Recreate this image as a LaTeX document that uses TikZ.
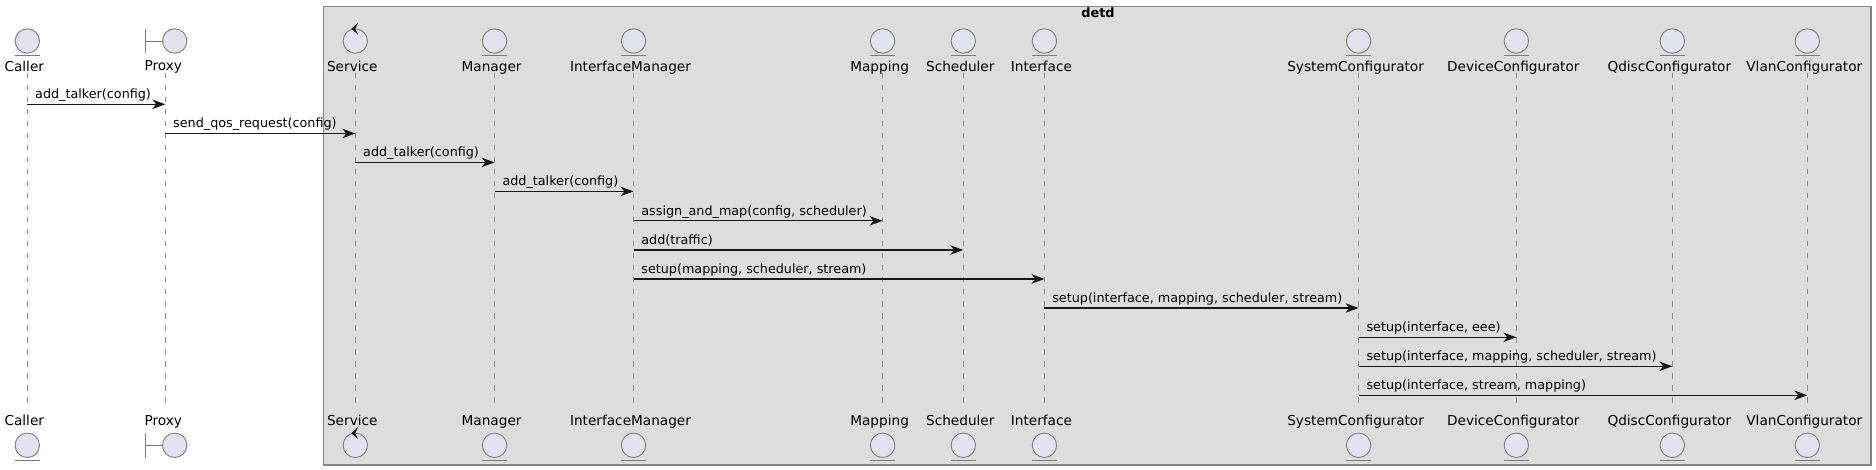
\documentclass[tikz,border=0pt]{standalone}
\usepackage{fontspec}
\setmainfont{DejaVu Sans}
\usetikzlibrary{arrows.meta, positioning}

\definecolor{partfill}{HTML}{E2E2F0}
\definecolor{partline}{HTML}{7C7C7C}
\definecolor{boxfill}{HTML}{DDDDDD}
\definecolor{boxline}{HTML}{858585}
\definecolor{msgline}{HTML}{181818}
\definecolor{lifeline}{HTML}{8A8A8A}

\begin{document}
\begin{tikzpicture}[x=1pt, y=-1pt, >={Stealth[length=13pt, width=9.5pt, inset=4pt]}]
    \tikzstyle{entline} = [draw=partline, line width=.9pt]
    \tikzstyle{ent} = [circle, draw=partline, fill=partfill, line width=.9pt, minimum size=24.4pt, inner sep=0pt]
    \tikzstyle{entity} = [ent, append after command={([xshift=-12.2pt, yshift=-2pt]\tikzlastnode.south) edge[entline] ([xshift=12.2pt, yshift=-2pt]\tikzlastnode.south)}]
    \tikzstyle{ptext} = [font=\fontsize{13.65}{16}\selectfont, text=black, inner sep=0pt, text height=13pt, text depth=4pt]
    \tikzstyle{life} = [draw=lifeline, line width=.8pt, dash pattern=on 5.5pt off 6.5pt]
    \tikzstyle{msg} = [->, draw=msgline, line width=1.05pt]
    \tikzstyle{mtext} = [font=\fontsize{12.75}{15}\selectfont, text=black, inner sep=0pt, pos=0, anchor=base west, xshift=7.4pt, yshift=5.6pt]

    \useasboundingbox (0,0) rectangle (1876,470);

    % Define box
    \draw[fill=boxfill, draw=boxline, line width=1.2pt] (323.5,6.5) rectangle (1871,465);
    \node[font=\fontsize{12.9}{15}\selectfont\bfseries, inner sep=0pt, anchor=base] (detd) at (1098,18) {detd};

    % Define rows
    \coordinate (lifetop) at (0,73);
    \coordinate (lifebot) at (0,408);
    \coordinate (r1) at (0,104.3);
    \coordinate (r2) at (0,133.5);
    \coordinate (r3) at (0,162.4);
    \coordinate (r4) at (0,191.4);
    \coordinate (r5) at (0,220.8);
    \coordinate (r6) at (0,250);
    \coordinate (r7) at (0,279);
    \coordinate (r8) at (0,308);
    \coordinate (r9) at (0,337.3);
    \coordinate (r10) at (0,366.3);
    \coordinate (r11) at (0,395.3);

    % Define participants
    \node[entity] (caller) at (27.3,41) {};
    \node[entity] (callerb) at (27.3,445.3) {};
    \node[ptext] (callertxt) [below=4.6pt of caller, xshift=-3pt] {Caller};
    \node[ptext] (callerbtxt) [above=3.1pt of callerb, xshift=-3pt] {Caller};

    \coordinate (proxy) at (165.3,41);
    \coordinate (proxyb) at (165.3,445.3);
    \coordinate (proxybar) at (145.3,41);
    \coordinate (proxybbar) at (145.3,445.3);
    \node[ent] (proxyhead) at (174.7,41) {};
    \node[ent] (proxybhead) at (174.7,445.3) {};
    \node[ptext] (proxytxt) [below=16.8pt of proxy, xshift=-2pt] {Proxy};
    \node[ptext] (proxybtxt) [above=15.3pt of proxyb, xshift=-2pt] {Proxy};
    \draw[entline] (proxyhead.west) -- (proxybar);
    \draw[entline] ([yshift=12.2pt]proxybar) -- ([yshift=-12.2pt]proxybar);
    \draw[entline] (proxybhead.west) -- (proxybbar);
    \draw[entline] ([yshift=12.2pt]proxybbar) -- ([yshift=-12.2pt]proxybbar);

    \node[ent] (service) at (355.3,41) {};
    \node[ent] (serviceb) at (355.3,445.3) {};
    \node[ptext] (servicetxt) [below=4.6pt of service, xshift=-3pt] {Service};
    \node[ptext] (servicebtxt) [above=3.1pt of serviceb, xshift=-3pt] {Service};
    \fill[msgline] ([shift={(2.7,-5.5)}]service.north) -- ++(-6.7,6) -- ++(6.7,5.7) -- ++(-2.7,-5.7) -- cycle;
    \fill[msgline] ([shift={(2.7,-5.5)}]serviceb.north) -- ++(-6.7,6) -- ++(6.7,5.7) -- ++(-2.7,-5.7) -- cycle;

    \node[entity] (manager) at (494.6,41) {};
    \node[entity] (managerb) at (494.6,445.3) {};
    \node[ptext] (managertxt) [below=4.6pt of manager, xshift=-3pt] {Manager};
    \node[ptext] (managerbtxt) [above=3.1pt of managerb, xshift=-3pt] {Manager};

    \node[entity] (ifmanager) at (633.5,41) {};
    \node[entity] (ifmanagerb) at (633.5,445.3) {};
    \node[ptext] (ifmanagertxt) [below=4.6pt of ifmanager, xshift=-3pt] {InterfaceManager};
    \node[ptext] (ifmanagerbtxt) [above=3.1pt of ifmanagerb, xshift=-3pt] {InterfaceManager};

    \node[entity] (mapping) at (882.6,41) {};
    \node[entity] (mappingb) at (882.6,445.3) {};
    \node[ptext] (mappingtxt) [below=4.6pt of mapping, xshift=-3pt] {Mapping};
    \node[ptext] (mappingbtxt) [above=3.1pt of mappingb, xshift=-3pt] {Mapping};

    \node[entity] (scheduler) at (963.3,41) {};
    \node[entity] (schedulerb) at (963.3,445.3) {};
    \node[ptext] (schedulertxt) [below=4.6pt of scheduler, xshift=-3pt] {Scheduler};
    \node[ptext] (schedulerbtxt) [above=3.1pt of schedulerb, xshift=-3pt] {Scheduler};

    \node[entity] (interface) at (1044.4,41) {};
    \node[entity] (interfaceb) at (1044.4,445.3) {};
    \node[ptext] (interfacetxt) [below=4.6pt of interface, xshift=-3pt] {Interface};
    \node[ptext] (interfacebtxt) [above=3.1pt of interfaceb, xshift=-3pt] {Interface};

    \node[entity] (syscfg) at (1358.6,41) {};
    \node[entity] (syscfgb) at (1358.6,445.3) {};
    \node[ptext] (syscfgtxt) [below=4.6pt of syscfg, xshift=-3pt] {SystemConfigurator};
    \node[ptext] (syscfgbtxt) [above=3.1pt of syscfgb, xshift=-3pt] {SystemConfigurator};

    \node[entity] (devcfg) at (1516.3,41) {};
    \node[entity] (devcfgb) at (1516.3,445.3) {};
    \node[ptext] (devcfgtxt) [below=4.6pt of devcfg, xshift=-3pt] {DeviceConfigurator};
    \node[ptext] (devcfgbtxt) [above=3.1pt of devcfgb, xshift=-3pt] {DeviceConfigurator};

    \node[entity] (qdisccfg) at (1672.3,41) {};
    \node[entity] (qdisccfgb) at (1672.3,445.3) {};
    \node[ptext] (qdisccfgtxt) [below=4.6pt of qdisccfg, xshift=-3pt] {QdiscConfigurator};
    \node[ptext] (qdisccfgbtxt) [above=3.1pt of qdisccfgb, xshift=-3pt] {QdiscConfigurator};

    \node[entity] (vlancfg) at (1807.3,41) {};
    \node[entity] (vlancfgb) at (1807.3,445.3) {};
    \node[ptext] (vlancfgtxt) [below=4.6pt of vlancfg, xshift=-3pt] {VlanConfigurator};
    \node[ptext] (vlancfgbtxt) [above=3.1pt of vlancfgb, xshift=-3pt] {VlanConfigurator};

    % Draw lifelines
    \draw[life] (caller |- lifetop) -- (caller |- lifebot);
    \draw[life] (proxy |- lifetop) -- (proxy |- lifebot);
    \draw[life] (service |- lifetop) -- (service |- lifebot);
    \draw[life] (manager |- lifetop) -- (manager |- lifebot);
    \draw[life] (ifmanager |- lifetop) -- (ifmanager |- lifebot);
    \draw[life] (mapping |- lifetop) -- (mapping |- lifebot);
    \draw[life] (scheduler |- lifetop) -- (scheduler |- lifebot);
    \draw[life] (interface |- lifetop) -- (interface |- lifebot);
    \draw[life] (syscfg |- lifetop) -- (syscfg |- lifebot);
    \draw[life] (devcfg |- lifetop) -- (devcfg |- lifebot);
    \draw[life] (qdisccfg |- lifetop) -- (qdisccfg |- lifebot);
    \draw[life] (vlancfg |- lifetop) -- (vlancfg |- lifebot);

    % Draw messages
    \draw[msg] (caller |- r1) -- node[mtext] {add\_talker(config)} (proxy |- r1);
    \draw[msg] (proxy |- r2) -- node[mtext] {send\_qos\_request(config)} (service |- r2);
    \draw[msg] (service |- r3) -- node[mtext] {add\_talker(config)} (manager |- r3);
    \draw[msg] (manager |- r4) -- node[mtext] {add\_talker(config)} (ifmanager |- r4);
    \draw[msg] (ifmanager |- r5) -- node[mtext] {assign\_and\_map(config, scheduler)} (mapping |- r5);
    \draw[msg] (ifmanager |- r6) -- node[mtext] {add(traffic)} (scheduler |- r6);
    \draw[msg] (ifmanager |- r7) -- node[mtext] {setup(mapping, scheduler, stream)} (interface |- r7);
    \draw[msg] (interface |- r8) -- node[mtext] {setup(interface, mapping, scheduler, stream)} (syscfg |- r8);
    \draw[msg] (syscfg |- r9) -- node[mtext] {setup(interface, eee)} (devcfg |- r9);
    \draw[msg] (syscfg |- r10) -- node[mtext] {setup(interface, mapping, scheduler, stream)} (qdisccfg |- r10);
    \draw[msg] (syscfg |- r11) -- node[mtext] {setup(interface, stream, mapping)} (vlancfg |- r11);
\end{tikzpicture}
\end{document}
